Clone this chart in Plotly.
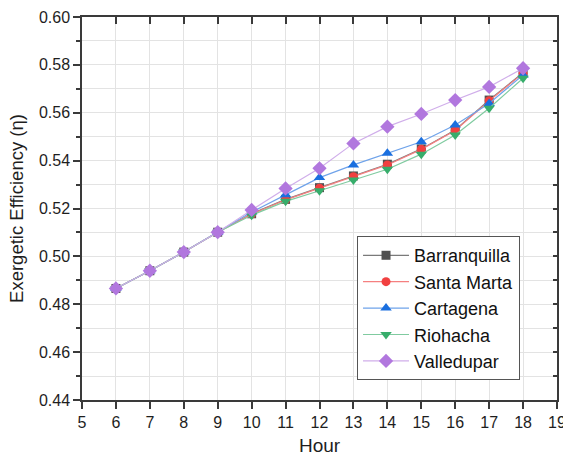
import plotly.graph_objects as go

hours = [6, 7, 8, 9, 10, 11, 12, 13, 14, 15, 16, 17, 18]

barranquilla = [0.4866, 0.4940, 0.5018, 0.5101, 0.5178, 0.5238, 0.5287, 0.5336, 0.5385, 0.5449, 0.5528, 0.5653, 0.5767]
santa_marta = [0.4866, 0.4940, 0.5018, 0.5101, 0.5177, 0.5236, 0.5285, 0.5333, 0.5382, 0.5447, 0.5526, 0.5650, 0.5765]
cartagena = [0.4866, 0.4940, 0.5018, 0.5101, 0.5185, 0.5257, 0.5329, 0.5382, 0.5431, 0.5479, 0.5549, 0.5639, 0.5758]
riohacha = [0.4866, 0.4940, 0.5018, 0.5101, 0.5172, 0.5230, 0.5274, 0.5319, 0.5364, 0.5427, 0.5507, 0.5619, 0.5744]
valledupar = [0.4866, 0.4940, 0.5018, 0.5101, 0.5194, 0.5284, 0.5368, 0.5472, 0.5542, 0.5595, 0.5653, 0.5708, 0.5786]

series = [
    ("Barranquilla", barranquilla, "#515151", "#7a7a7a", "square", 9),
    ("Santa Marta", santa_marta, "#F14040", "#f58080", "circle", 9),
    ("Cartagena", cartagena, "#1A6FDF", "#6fa3ea", "triangle-up", 10),
    ("Riohacha", riohacha, "#37AD6B", "#80cba0", "triangle-down", 10),
    ("Valledupar", valledupar, "#B177DE", "#d0aeea", "diamond", 11),
]

FONT = "Liberation Sans, Arial, sans-serif"
AXIS = "#3a3a3a"
GRID = "#e3e3e3"
TEXT = "#1e1e1e"

fig = go.Figure()
for name, vals, mcol, lcol, sym, size in series:
    fig.add_trace(go.Scatter(
        x=hours, y=vals, name=name, mode="lines+markers",
        line=dict(color=lcol, width=1.2),
        marker=dict(symbol=sym, size=size, color=mcol, line=dict(width=0)),
    ))

# invisible trace so the mirrored top/right axes are drawn
fig.add_trace(go.Scatter(x=[5], y=[0.44], xaxis="x2", yaxis="y2",
                         mode="markers", marker=dict(opacity=0),
                         showlegend=False, hoverinfo="skip"))

fig.update_layout(
    width=563, height=456,
    margin=dict(l=82, r=6, t=17, b=56),
    paper_bgcolor="white", plot_bgcolor="white",
    font=dict(family=FONT, color=TEXT, size=16),
    xaxis=dict(
        range=[5, 19], dtick=1, tick0=5, automargin=False,
        showgrid=True, gridcolor=GRID, gridwidth=1,
        showline=True, linecolor=AXIS, linewidth=1.5,
        ticks="outside", ticklen=7, tickwidth=1.5, tickcolor=AXIS,
        tickfont=dict(size=16, family=FONT, color=TEXT),
        ticklabeloverflow="allow",
        title=dict(text="Hour", font=dict(size=19, family=FONT, color=TEXT), standoff=14),
        zeroline=False,
    ),
    yaxis=dict(
        range=[0.44, 0.60], dtick=0.02, tick0=0.44, tickformat=".2f", automargin=False,
        showgrid=True, gridcolor=GRID, gridwidth=1,
        minor=dict(dtick=0.01, showgrid=True, gridcolor=GRID, gridwidth=1,
                   ticks="outside", ticklen=4, tickwidth=1.5, tickcolor=AXIS),
        showline=True, linecolor=AXIS, linewidth=1.5,
        ticks="outside", ticklen=7, tickwidth=1.5, tickcolor=AXIS,
        tickfont=dict(size=16, family=FONT, color=TEXT),
        ticklabeloverflow="allow",
        title=dict(text="Exergetic Efficiency (η)", font=dict(size=18.5, family=FONT, color=TEXT), standoff=10),
        zeroline=False,
    ),
    xaxis2=dict(
        overlaying="x", side="top", anchor="y", range=[5, 19], dtick=1, tick0=5,
        automargin=False,
        showgrid=False, showline=True, linecolor=AXIS, linewidth=1.5,
        ticks="inside", ticklen=7, tickwidth=1.5, tickcolor=AXIS,
        showticklabels=False, zeroline=False,
    ),
    yaxis2=dict(
        overlaying="y", side="right", anchor="x", range=[0.44, 0.60], dtick=0.01, tick0=0.44,
        automargin=False,
        showgrid=False, showline=True, linecolor=AXIS, linewidth=1.5,
        ticks="inside", ticklen=4, tickwidth=1.5, tickcolor=AXIS,
        showticklabels=False, zeroline=False,
    ),
    legend=dict(
        x=0.579, y=0.428, xanchor="left", yanchor="top",
        bgcolor="white", bordercolor="#555555", borderwidth=1,
        font=dict(size=18, family=FONT, color="#111111"),
        itemwidth=46, tracegroupgap=0,
    ),
    showlegend=True,
)

fig.write_html("out.html")
